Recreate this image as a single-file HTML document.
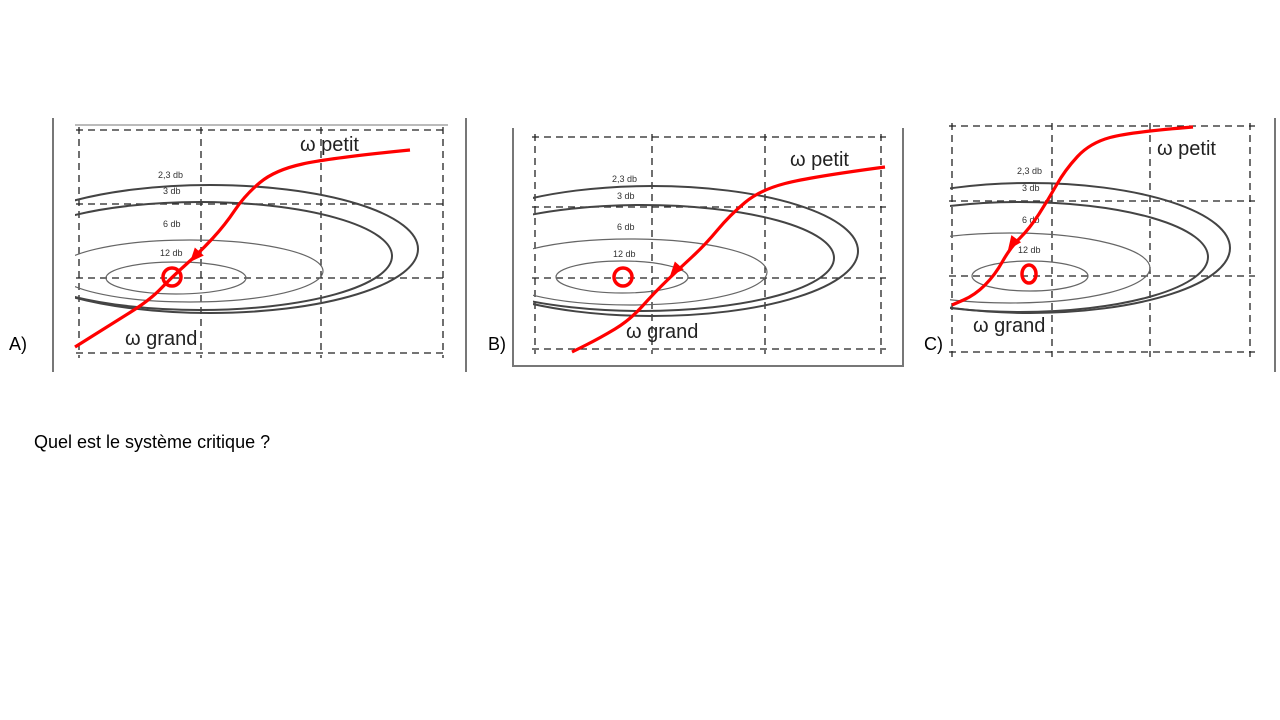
<!DOCTYPE html>
<html><head><meta charset="utf-8"><style>
body{margin:0;width:1280px;height:720px;background:#fff;overflow:hidden;font-family:"Liberation Sans",sans-serif}
svg{position:absolute;left:0;top:0}
</style></head><body>
<svg id="s" width="1280" height="720">
<text x="9" y="350" font-size="18">A)</text>
<text x="488" y="350" font-size="18">B)</text>
<text x="924" y="350" font-size="18">C)</text>
<text x="34" y="448" font-size="18">Quel est le système critique ?</text>
<line x1="53" y1="118" x2="53" y2="372" stroke="#777" stroke-width="2"/>
<line x1="466" y1="118" x2="466" y2="372" stroke="#777" stroke-width="2"/>
<line x1="75" y1="125" x2="448" y2="125" stroke="#bbb" stroke-width="2"/>
<polyline points="513,128 513,366 903,366 903,128" fill="none" stroke="#777" stroke-width="2"/>
<line x1="1275" y1="118" x2="1275" y2="372" stroke="#777" stroke-width="2"/>
</svg>
<script>
const NS="http://www.w3.org/2000/svg";
const svg=document.getElementById('s');
// panel data
const panelNames=['a','b','c'];
const gridX=[[79,201,321,443],[535,652,765,881],[952,1052,1150,1250]];
const gridY=[[130,204,278,353],[137,207,278,349],[126,201,276,352]];
const clipX=[[75,450],[533,885],[950,1260]];
// contour ellipses: [cx, cy, rx, ry] for 2.3db, 3db, 6db, 12db
const contours=[
 [[210,249,208,64],[200,256,192,54],[190,271,133,31],[176,278,70,16]],
 [[652,251,206,65],[642,258,192,53],[630,272,137,33],[622,277,66,16]],
 [[1030,248,200,65],[1020,257,188,55],[1010,268,140,35],[1030,276,58,15]]];
const contourLabels=['2,3 db','3 db','6 db','12 db'];
const labelPos=[[[158,178],[163,194],[163,227],[160,256]],[[612,182],[617,199],[617,230],[613,257]],[[1017,174],[1022,191],[1022,223],[1018,253]]];
const curves=[
 [[410,150],[330,158],[275,170],[245,195],[225,225],[200,252],[172,277],[150,300],[110,325],[75,347]],
 [[885,167],[810,177],[760,190],[730,215],[705,245],[680,268],[655,292],[630,320],[600,338],[572,352]],
 [[1193,127],[1130,132],[1090,143],[1065,170],[1048,200],[1030,228],[1010,248],[995,275],[975,295],[952,305]]];
const arrowAt=[[190,262,-2.3],[670,276,-2.3],[1008,250,-2.2]];
const markers=[[172,277,9,9],[623,277,9,9],[1029,274,7,9]];
const textPetit=[[300,151],[790,166],[1157,155]];
const textGrand=[[125,345],[626,338],[973,332]];
function el(t,a,p){const e=document.createElementNS(NS,t);for(const k in a)e.setAttribute(k,a[k]);(p||svg).appendChild(e);return e;}
const defs=el('defs',{});
panelNames.forEach((n,i)=>{
 const g=el('g',{});
 
 
 const cp=el('clipPath',{id:'cp'+i},defs);
 el('rect',{x:clipX[i][0],y:100,width:clipX[i][1]-clipX[i][0],height:280},cp);
 const gx=gridX[i],gy=gridY[i];
 gx.forEach(x=>{const l=el('line',{x1:x,y1:gy[0]-3,x2:x,y2:gy[3]+5,stroke:'#222','stroke-width':1.3,'stroke-dasharray':'7,5'},g);});
 gy.forEach(y=>{const l=el('line',{x1:gx[0]-3,y1:y,x2:gx[3]+5,y2:y,stroke:'#222','stroke-width':1.3,'stroke-dasharray':'7,5'},g);});
 const cg=el('g',{'clip-path':'url(#cp'+i+')'},g);
 contours[i].forEach((c,j)=>{const e=el('ellipse',{cx:c[0],cy:c[1],rx:c[2],ry:c[3],fill:'none',stroke:j<2?'#444':'#666','stroke-width':j<2?2:1.2},cg);
  
  const t=el('text',{x:labelPos[i][j][0],y:labelPos[i][j][1],'font-size':9,fill:'#333'},g);t.textContent=contourLabels[j];
  });
 const p=curves[i];let d='M'+p[0][0]+','+p[0][1];
 for(let k=1;k<p.length-1;k++){const mx=(p[k][0]+p[k+1][0])/2,my=(p[k][1]+p[k+1][1])/2;d+=' Q'+p[k][0]+','+p[k][1]+' '+mx+','+my;}
 d+=' L'+p[p.length-1][0]+','+p[p.length-1][1];
 const c=el('path',{d:d,fill:'none',stroke:'#f00','stroke-width':3.2},g);
 
 const a=arrowAt[i],ang=a[2],ca=Math.cos(ang),sa=Math.sin(ang);
 const tip=[a[0],a[1]],bx=a[0]-14*ca,by=a[1]+14*sa;
 const ar=el('polygon',{points:`${tip[0]},${tip[1]} ${bx-6*sa},${by-6*ca} ${bx+6*sa},${by+6*ca}`,fill:'#f00'},g);
 
 const m=markers[i];const mk=el('ellipse',{cx:m[0],cy:m[1],rx:m[2],ry:m[3],fill:'none',stroke:'#f00','stroke-width':3.5},g);
 
 const t1=el('text',{x:textPetit[i][0],y:textPetit[i][1],'font-size':20,fill:'#222'},g);t1.textContent='ω petit';
 
 const t2=el('text',{x:textGrand[i][0],y:textGrand[i][1],'font-size':20,fill:'#222'},g);t2.textContent='ω grand';
 
});
</script>
</body></html>
